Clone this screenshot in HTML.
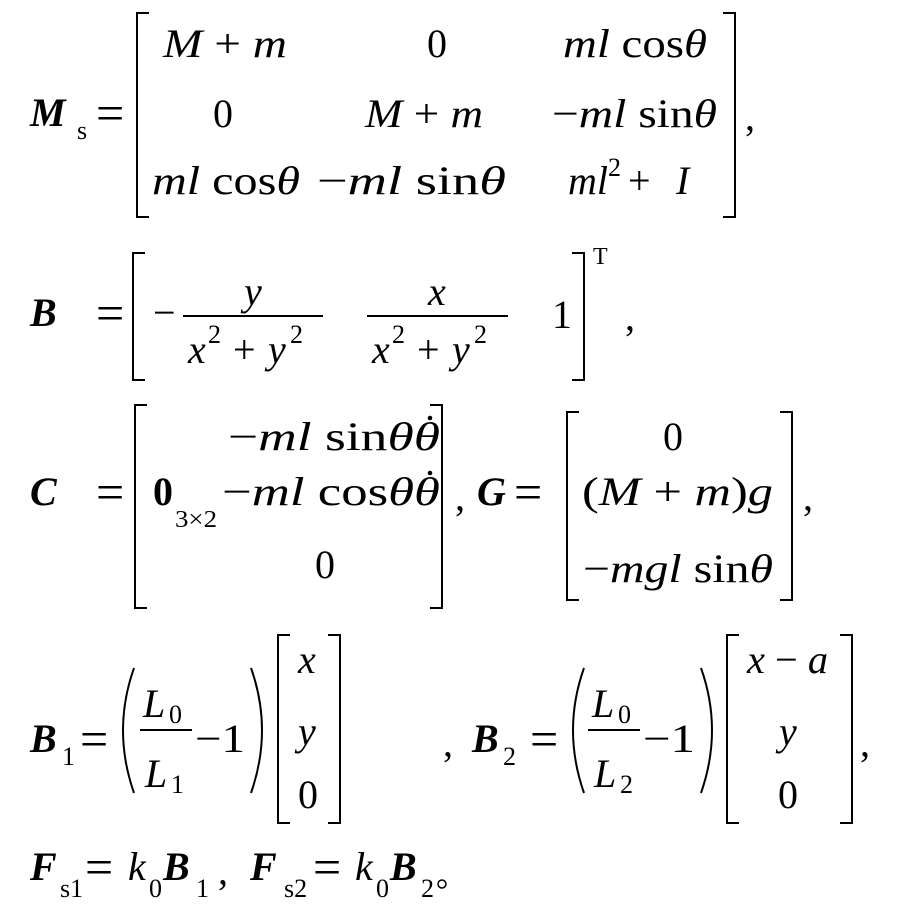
<!DOCTYPE html>
<html><head><meta charset="utf-8"><style>
html,body{margin:0;padding:0;background:#fff;}
svg{display:block;}
text,tspan{font-family:"Liberation Serif","DejaVu Serif","Times New Roman",serif;fill:#000;}
.i{font-style:italic;}
.b{font-weight:bold;font-style:italic;}
.bn{font-weight:bold;}
.s{font-size:26px;}
.e{font-size:50px;}
</style></head><body>
<svg width="909" height="922" viewBox="0 0 909 922" xmlns="http://www.w3.org/2000/svg" font-size="40">
<g stroke="#000" stroke-width="2" fill="none">
<path d="M149 13 H137 V217 H149"/><path d="M723 13 H735 V217 H723"/>
<path d="M145 253 H133 V380 H145"/><path d="M572 253 H584 V380 H572"/>
<line x1="183" y1="316" x2="323" y2="316"/><line x1="367" y1="316" x2="508" y2="316"/>
<path d="M147 405 H135 V608 H147"/><path d="M430 405 H442 V608 H430"/>
<path d="M579 412 H567 V600 H579"/><path d="M780 412 H792 V600 H780"/>
<path d="M134 668 Q112 730 134 793"/><path d="M251 668 Q273 730 251 793"/>
<line x1="140" y1="730" x2="192" y2="730"/>
<path d="M290 635 H278 V823 H290"/><path d="M328 635 H340 V823 H328"/>
<path d="M584 668 Q562 730 584 793"/><path d="M701 668 Q723 730 701 793"/>
<line x1="588" y1="730" x2="640" y2="730"/>
<path d="M739 635 H727 V823 H739"/><path d="M840 635 H852 V823 H840"/>
<circle cx="442" cy="884" r="4" stroke-width="1.5"/>
</g>
<text x="30" y="126" class="b">M</text><text x="77" y="139" class="s">s</text>
<text x="96" y="130" class="e">=</text>
<text x="163" y="57" textLength="124" lengthAdjust="spacingAndGlyphs"><tspan class="i">M</tspan> + <tspan class="i">m</tspan></text>
<text x="427" y="57">0</text>
<text x="563" y="57" textLength="144" lengthAdjust="spacingAndGlyphs"><tspan class="i">ml</tspan> cos<tspan class="i">θ</tspan></text>
<text x="213" y="127">0</text>
<text x="365" y="127" textLength="118" lengthAdjust="spacingAndGlyphs"><tspan class="i">M</tspan> + <tspan class="i">m</tspan></text>
<text x="552" y="127" textLength="165" lengthAdjust="spacingAndGlyphs">−<tspan class="i">ml</tspan> sin<tspan class="i">θ</tspan></text>
<text x="152" y="194" textLength="148" lengthAdjust="spacingAndGlyphs"><tspan class="i">ml</tspan> cos<tspan class="i">θ</tspan></text>
<text x="317" y="194" textLength="189" lengthAdjust="spacingAndGlyphs">−<tspan class="i">ml</tspan> sin<tspan class="i">θ</tspan></text>
<text x="568" y="194" class="i">ml</text><text x="608" y="176" font-size="26">2</text>
<text x="628" y="194">+</text><text x="676" y="194" class="i">I</text>
<text x="745" y="130">,</text>
<text x="30" y="326" class="b">B</text>
<text x="96" y="330" class="e">=</text>
<text x="153" y="326">−</text>
<text x="244" y="305" class="i">y</text>
<text x="188" y="363" class="i">x</text><text x="208" y="343" font-size="26">2</text>
<text x="233" y="363">+</text><text x="268" y="363" class="i">y</text><text x="290" y="343" font-size="26">2</text>
<text x="428" y="305" class="i">x</text>
<text x="372" y="363" class="i">x</text><text x="392" y="343" font-size="26">2</text>
<text x="417" y="363">+</text><text x="452" y="363" class="i">y</text><text x="474" y="343" font-size="26">2</text>
<text x="552" y="328">1</text>
<text x="593" y="264" font-size="24">T</text>
<text x="625" y="330">,</text>
<text x="30" y="505" class="b">C</text>
<text x="96" y="509" class="e">=</text>
<text x="228" y="450" textLength="212" lengthAdjust="spacingAndGlyphs">−<tspan class="i">ml</tspan> sin<tspan class="i">θθ</tspan></text>
<circle cx="430" cy="418" r="2.3"/>
<text x="153" y="505" class="bn">0</text>
<text x="175" y="527" font-size="24" textLength="42" lengthAdjust="spacingAndGlyphs">3×2</text>
<text x="222" y="505" textLength="218" lengthAdjust="spacingAndGlyphs">−<tspan class="i">ml</tspan> cos<tspan class="i">θθ</tspan></text>
<circle cx="430" cy="473" r="2.3"/>
<text x="315" y="578">0</text>
<text x="455" y="510">,</text>
<text x="477" y="505" class="b">G</text>
<text x="514" y="509" class="e">=</text>
<text x="663" y="450">0</text>
<text x="582" y="505" textLength="191" lengthAdjust="spacingAndGlyphs">(<tspan class="i">M</tspan> + <tspan class="i">m</tspan>)<tspan class="i">g</tspan></text>
<text x="583" y="582" textLength="190" lengthAdjust="spacingAndGlyphs">−<tspan class="i">mgl</tspan> sin<tspan class="i">θ</tspan></text>
<text x="803" y="510">,</text>
<text x="30" y="752" class="b">B</text><text x="62" y="765" class="s">1</text>
<text x="80" y="756" class="e">=</text>
<text x="143" y="717" class="i">L</text><text x="169" y="723" class="s">0</text>
<text x="145" y="787" class="i">L</text><text x="171" y="793" class="s">1</text>
<text x="195" y="752" textLength="50" lengthAdjust="spacingAndGlyphs">−1</text>
<text x="298" y="673" class="i">x</text>
<text x="298" y="745" class="i">y</text>
<text x="298" y="808">0</text>
<text x="443" y="756">,</text>
<text x="472" y="752" class="b">B</text><text x="503" y="765" class="s">2</text>
<text x="530" y="756" class="e">=</text>
<text x="592" y="717" class="i">L</text><text x="618" y="723" class="s">0</text>
<text x="594" y="787" class="i">L</text><text x="620" y="793" class="s">2</text>
<text x="643" y="752" textLength="52" lengthAdjust="spacingAndGlyphs">−1</text>
<text x="747" y="673" textLength="81" lengthAdjust="spacingAndGlyphs"><tspan class="i">x</tspan> − <tspan class="i">a</tspan></text>
<text x="779" y="745" class="i">y</text>
<text x="778" y="808">0</text>
<text x="860" y="756">,</text>
<text x="30" y="880" class="b">F</text><text x="60" y="897" class="s">s1</text>
<text x="85" y="884" class="e">=</text>
<text x="128" y="880" class="i">k</text><text x="149" y="897" class="s">0</text>
<text x="163" y="880" class="b">B</text><text x="196" y="897" class="s">1</text>
<text x="218" y="884">,</text>
<text x="250" y="880" class="b">F</text><text x="284" y="897" class="s">s2</text>
<text x="313" y="884" class="e">=</text>
<text x="355" y="880" class="i">k</text><text x="376" y="897" class="s">0</text>
<text x="390" y="880" class="b">B</text><text x="421" y="897" class="s">2</text>
</svg>
</body></html>
